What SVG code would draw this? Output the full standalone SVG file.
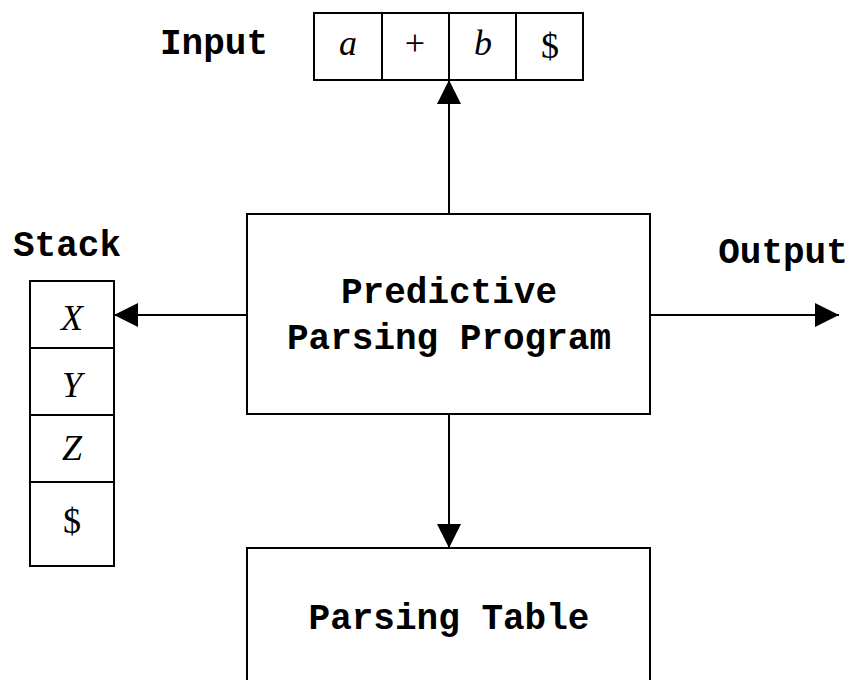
<svg xmlns="http://www.w3.org/2000/svg" width="852" height="680" viewBox="0 0 852 680">
<style>
.box{fill:#fff;stroke:#000;stroke-width:2}
.cell{fill:none;stroke:#000;stroke-width:2}
.lbl{font-family:"Liberation Mono","Courier New",monospace;font-weight:bold;font-size:36px;fill:#000}
.sym{font-family:"Liberation Serif","Times New Roman",serif;font-size:36px;fill:#000;text-anchor:middle}
.it{font-style:italic}
.conn{stroke:#000;stroke-width:2;fill:none;marker-end:url(#ah)}
</style>
<defs>
<marker id="ah" markerUnits="userSpaceOnUse" markerWidth="24" markerHeight="24" viewBox="0 0 22 22" refX="22" refY="11" orient="auto">
<path d="M0,0 L22,11 L0,22 Z" fill="#000"/>
</marker>
</defs>
<g id="connectors">
<line class="conn" x1="449" y1="214" x2="449" y2="80"/>
<line class="conn" x1="247" y1="315" x2="114" y2="315"/>
<line class="conn" x1="650" y1="315" x2="839" y2="315"/>
<line class="conn" x1="449" y1="414" x2="449" y2="548"/>
</g>
<g id="input">
<text class="lbl" x="214" y="54" text-anchor="middle">Input</text>
<rect class="cell" x="314" y="13" width="269" height="67"/>
<line class="cell" x1="382" y1="13" x2="382" y2="80"/>
<line class="cell" x1="449" y1="13" x2="449" y2="80"/>
<line class="cell" x1="516" y1="13" x2="516" y2="80"/>
<text class="sym it" x="348" y="55">a</text>
<text class="sym" x="415" y="55">+</text>
<text class="sym it" x="483" y="55">b</text>
<text class="sym" x="550" y="58">$</text>
</g>
<g id="stack">
<text class="lbl" x="67" y="256" text-anchor="middle">Stack</text>
<rect class="cell" x="30" y="281" width="84" height="285"/>
<line class="cell" x1="30" y1="348" x2="114" y2="348"/>
<line class="cell" x1="30" y1="415" x2="114" y2="415"/>
<line class="cell" x1="30" y1="482" x2="114" y2="482"/>
<text class="sym it" x="72" y="330">X</text>
<text class="sym it" x="72" y="397">Y</text>
<text class="sym it" x="72" y="460">Z</text>
<text class="sym" x="72" y="533">$</text>
</g>
<g id="program">
<rect class="box" x="247" y="214" width="403" height="200"/>
<text class="lbl" x="449" y="303" text-anchor="middle">Predictive</text>
<text class="lbl" x="449" y="349" text-anchor="middle">Parsing Program</text>
</g>
<g id="output">
<text class="lbl" x="783" y="263" text-anchor="middle">Output</text>
</g>
<g id="table">
<rect class="box" x="247" y="548" width="403" height="145"/>
<text class="lbl" x="449" y="629" text-anchor="middle">Parsing Table</text>
</g>
</svg>
